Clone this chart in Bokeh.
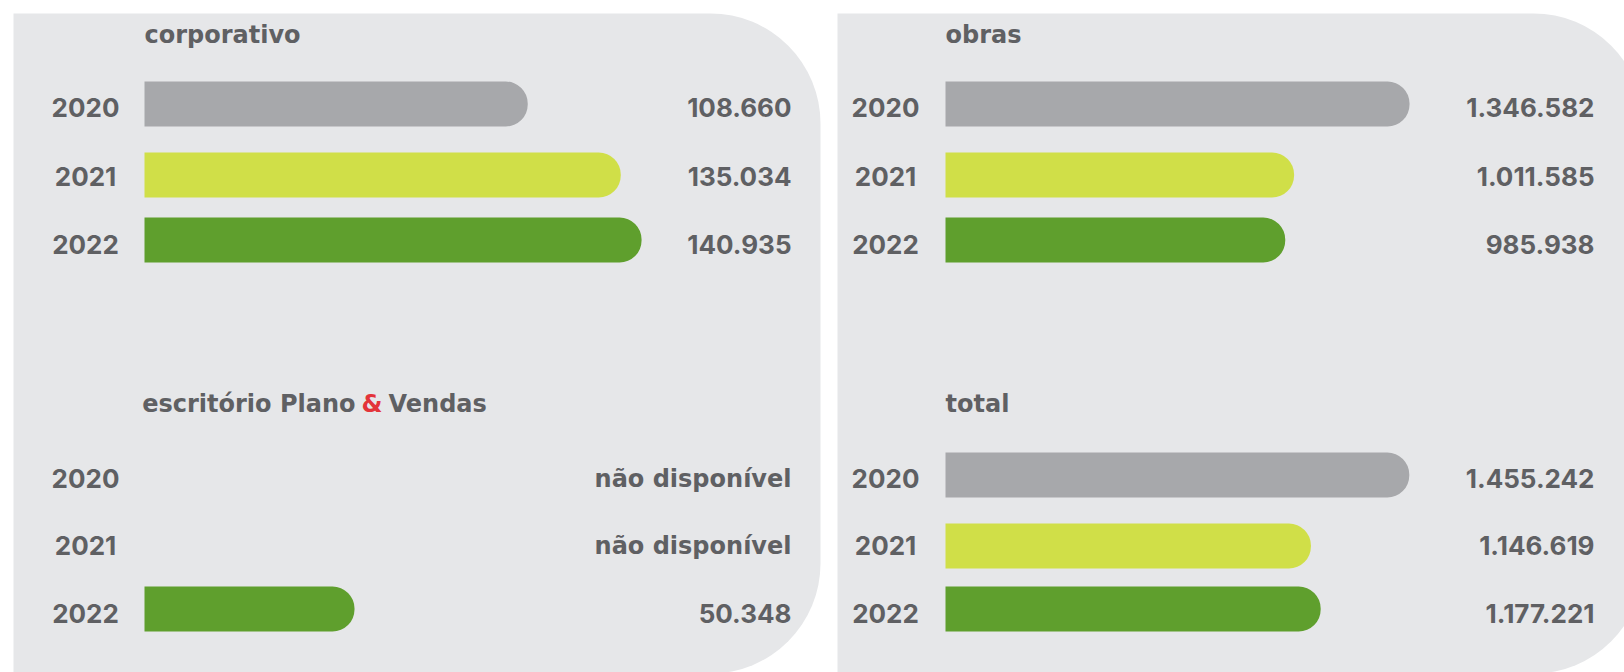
from bokeh.plotting import figure
from bokeh.models import Range1d, ColumnDataSource
from bokeh.core.properties import value
from bokeh.embed import file_html
from bokeh.resources import INLINE

# ---------------- data ----------------
years = ["2020", "2021", "2022"]
corporativo = [108660, 135034, 140935]
escritorio = [None, None, 50348]
obras = [1346582, 1011585, 985938]
total = [1455242, 1146619, 1177221]
titles = ["corporativo", "escritório Plano & Vendas", "obras", "total"]
na_text = "não disponível"

bar_colors = ["#a7a8ab", "#d0df48", "#5f9f2d"]
panel_color = "#e6e7e9"
text_color = "#5f6063"
amp_color = "#e3343a"
NUM_FONT = value("Inter")
TXT_FONT = value("DejaVu Sans")

# ---------------- figure (page-pixel layout coordinates) ----------------
W, H = 1624, 672
p = figure(width=W, height=H, x_range=Range1d(0, W), y_range=Range1d(H, 0),
           output_backend="svg", toolbar_location=None, tools="", min_border=0)
p.axis.visible = False
p.grid.visible = False
p.outline_line_color = None
p.background_fill_color = "white"
p.border_fill_color = "white"

# panels
R = 110
p.quad(left=[13, 837], right=[820, 1643], top=[13, 13], bottom=[673, 673],
       fill_color=panel_color, line_color=None,
       border_radius=dict(top_left=0, top_right=R, bottom_right=R, bottom_left=0))

DY = -10  # text baseline correction
top_rows = [103.5, 174.5, 239.5]
top_base = [117 + DY, 185.5 + DY, 253.5 + DY]
bot_rows = [474.5, 545.5, 608.5]
bot_base = [488 + DY, 555 + DY, 623 + DY]
top_title = 44.5 + DY
bot_title = 413.5 + DY

panels = [
    dict(name="corp", vals=corporativo, x0=144, s=0.003527, rows=top_rows, base=top_base, tb=top_title, yx=85, vx=791, title=titles[0]),
    dict(name="escr", vals=escritorio, x0=144, s=0.004171, rows=bot_rows, base=bot_base, tb=bot_title, yx=85, vx=791, title=None),
    dict(name="obras", vals=obras, x0=945, s=0.0003446, rows=top_rows, base=top_base, tb=top_title, yx=885, vx=1594, title=titles[2]),
    dict(name="total", vals=total, x0=945, s=0.0003187, rows=bot_rows, base=bot_base, tb=bot_title, yx=885, vx=1594, title=titles[3]),
]

def fmt(v):
    return na_text if v is None else f"{v:,}".replace(",", ".")

for pn in panels:
    start = (0 - pn["x0"]) / pn["s"]
    end = (W - pn["x0"]) / pn["s"]
    p.extra_x_ranges[pn["name"]] = Range1d(start, end)
    idx = [i for i, v in enumerate(pn["vals"]) if v is not None]
    src = ColumnDataSource(dict(
        y=[pn["rows"][i] for i in idx],
        right=[pn["vals"][i] for i in idx],
        color=[bar_colors[i] for i in idx],
    ))
    p.hbar(y="y", left=0, right="right", height=45, fill_color="color", line_color=None,
           x_range_name=pn["name"], source=src,
           border_radius=dict(top_left=0, top_right=22, bottom_right=22, bottom_left=0))
    # year labels
    p.text(x=[pn["yx"]] * 3, y=pn["base"], text=years, text_align="center",
           text_baseline="alphabetic", text_font=NUM_FONT, text_font_style="bold",
           text_font_size="26px", text_color=text_color)
    # value labels
    num_i = [i for i, v in enumerate(pn["vals"]) if v is not None]
    na_i = [i for i, v in enumerate(pn["vals"]) if v is None]
    if num_i:
        p.text(x=[pn["vx"]] * len(num_i), y=[pn["base"][i] for i in num_i],
               text=[fmt(pn["vals"][i]) for i in num_i],
               text_align="right", text_baseline="alphabetic", text_font=NUM_FONT,
               text_font_style="bold", text_font_size="26px", text_color=text_color)
    if na_i:
        p.text(x=[pn["vx"]] * len(na_i), y=[pn["base"][i] for i in na_i],
               text=[na_text] * len(na_i),
               text_align="right", text_baseline="alphabetic", text_font=TXT_FONT,
               text_font_style="bold", text_font_size="24px", text_color=text_color)
    if pn["title"]:
        p.text(x=[pn["x0"]], y=[pn["tb"]], text=[pn["title"]], text_align="left",
               text_baseline="alphabetic", text_font=TXT_FONT, text_font_style="bold",
               text_font_size="24px", text_color=text_color)

# "escritório Plano & Vendas" with red ampersand
p.text(x=[355], y=[bot_title], text=["escritório Plano"], text_align="right",
       text_baseline="alphabetic", text_font=TXT_FONT, text_font_style="bold",
       text_font_size="24px", text_color=text_color)
p.text(x=[371.5], y=[bot_title], text=["&"], text_align="center",
       text_baseline="alphabetic", text_font=TXT_FONT, text_font_style="bold",
       text_font_size="24px", text_color=amp_color)
p.text(x=[388], y=[bot_title], text=["Vendas"], text_align="left",
       text_baseline="alphabetic", text_font=TXT_FONT, text_font_style="bold",
       text_font_size="24px", text_color=text_color)

open("out.html", "w").write(file_html(p, INLINE))
